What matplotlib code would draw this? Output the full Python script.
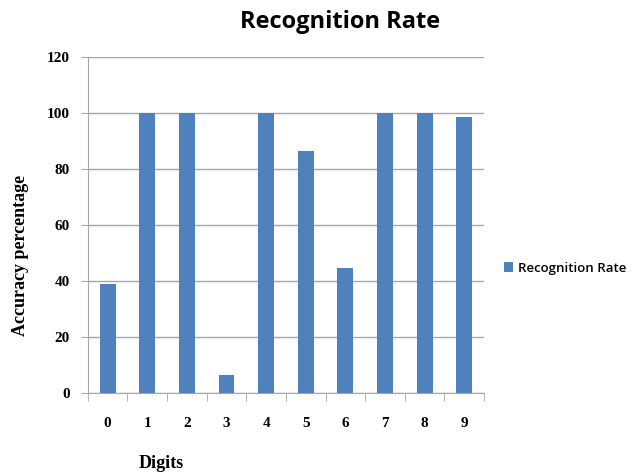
import matplotlib
matplotlib.use("Agg")
import matplotlib.pyplot as plt

digits = ['0', '1', '2', '3', '4', '5', '6', '7', '8', '9']
rate = [39, 100, 100, 6.5, 100, 86.5, 44.5, 100, 100, 98.5]
yticks = [0, 20, 40, 60, 80, 100, 120]

bar_color = '#4f81bd'
grid_color = '#a6a6a6'

fig = plt.figure(figsize=(6.32, 4.75), dpi=100)
ax = fig.add_axes([0.139, 0.1726, 0.627, 0.7074])

x = list(range(len(digits)))
ax.bar(x, rate, width=0.4, color=bar_color, label='Recognition Rate', zorder=3)

ax.set_xlim(-0.5, len(digits) - 0.5)
ax.set_ylim(0, 120)
ax.set_yticks(yticks)
ax.set_yticklabels([str(v) for v in yticks], fontfamily='Liberation Serif', fontweight='bold', fontsize=11)
ax.set_xticks(x)
ax.set_xticklabels(digits, fontfamily='Liberation Serif', fontweight='bold', fontsize=11)
ax.tick_params(axis='x', length=0, pad=17)
ax.tick_params(axis='y', length=5, color=grid_color, pad=8)
# category boundary ticks
ax.set_xticks([i - 0.5 for i in range(len(digits) + 1)], minor=True)
ax.tick_params(axis='x', which='minor', length=6, color=grid_color)

ax.grid(axis='y', color=grid_color, linewidth=1, zorder=0)
for s in ['top', 'right']:
    ax.spines[s].set_visible(False)
ax.spines['left'].set_color(grid_color)
ax.spines['bottom'].set_color(grid_color)

fig.text(0.538, 0.953, 'Recognition Rate', ha='center', va='center',
         fontfamily='Open Sans', fontweight='bold', fontsize=17)
fig.text(0.255, 0.025, 'Digits', ha='center', va='center',
         fontfamily='Liberation Serif', fontweight='bold', fontsize=13)
fig.text(0.032, 0.463, 'Accuracy percentage', ha='center', va='center', rotation=90,
         fontfamily='Liberation Serif', fontweight='bold', fontsize=13)

ax.legend(loc='center left', bbox_to_anchor=(1.02, 0.372), frameon=False,
          prop={'family': 'Open Sans', 'size': 9.5, 'weight': 'semibold'},
          handlelength=0.7, handleheight=0.7, handletextpad=0.4)

fig.savefig('out.png', dpi=100)
